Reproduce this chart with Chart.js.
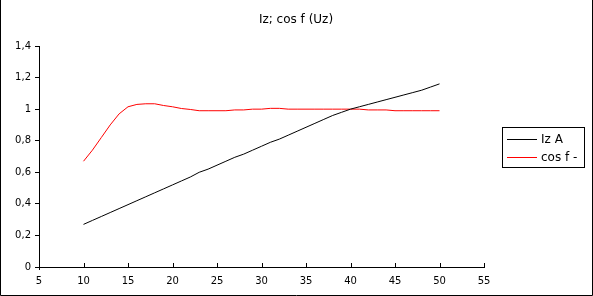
<!DOCTYPE html>
<html>
<head>
<meta charset="utf-8">
<script src="https://cdn.jsdelivr.net/npm/chart.js@4.4.1/dist/chart.umd.min.js"></script>
<style>
  html, body { margin: 0; padding: 0; background: #fff; }
  #wrap { width: 593px; height: 296px; }
</style>
</head>
<body>
<div id="wrap"><canvas id="chart" width="593" height="296"></canvas></div>
<script>
// Uz values (x axis)
const uz = [10, 11, 12, 13, 14, 15, 16, 17, 18, 19, 20, 21, 22, 23, 24, 25, 26, 27, 28, 29, 30,
            31, 32, 33, 34, 35, 36, 37, 38, 39, 40, 41, 42, 43, 44, 45, 46, 47, 48, 49, 50];
// Iz A
const iz = [0.27, 0.295, 0.32, 0.345, 0.37, 0.395, 0.42, 0.445, 0.47, 0.495, 0.52, 0.545, 0.57, 0.60, 0.62,
            0.645, 0.67, 0.695, 0.715, 0.74, 0.765, 0.79, 0.81, 0.835, 0.86, 0.885, 0.91, 0.935, 0.96, 0.98,
            1.00, 1.015, 1.03, 1.045, 1.06, 1.075, 1.09, 1.105, 1.12, 1.14, 1.16];
// cos f -
const cosf = [0.67, 0.74, 0.82, 0.90, 0.97, 1.015, 1.03, 1.034, 1.034, 1.023, 1.015, 1.004, 0.998,
              0.99, 0.99, 0.99, 0.99, 0.995, 0.995, 1.0, 1.0, 1.005, 1.005, 1.0, 1.0, 1.0, 1.0, 1.0,
              1.0, 1.0, 1.0, 1.0, 0.995, 0.995, 0.995, 0.99, 0.99, 0.99, 0.99, 0.99, 0.99];
const seriesNames = ['Iz A', 'cos f -'];
const chartTitle = 'Iz; cos f (Uz)';

const FONT = 'DejaVu Sans';

function toPoints(ys) {
  return uz.map((x, i) => ({ x: x, y: ys[i] }));
}

// frame, title, inward x ticks and boxed legend
const extras = {
  id: 'extras',
  afterDraw(chart) {
    const ctx = chart.ctx;
    const xs = chart.scales.x;
    const area = chart.chartArea;
    ctx.save();

    // outer frame (left, right, bottom)
    ctx.strokeStyle = '#000';
    ctx.lineWidth = 1;
    ctx.beginPath();
    ctx.moveTo(0.5, 0);
    ctx.lineTo(0.5, 295.5);
    ctx.lineTo(592.5, 295.5);
    ctx.lineTo(592.5, 0);
    ctx.stroke();

    // title
    ctx.fillStyle = '#000';
    ctx.font = '12px "' + FONT + '"';
    ctx.textAlign = 'center';
    ctx.textBaseline = 'middle';
    ctx.fillText(chartTitle, 296, 20);

    // x ticks pointing up
    ctx.beginPath();
    xs.ticks.forEach((t, i) => {
      const px = Math.round(xs.getPixelForTick(i)) + 0.5;
      ctx.moveTo(px, area.bottom);
      ctx.lineTo(px, area.bottom - 4);
    });
    ctx.moveTo(area.left + 0.5, area.bottom);
    ctx.lineTo(area.left + 0.5, area.bottom + 3);
    ctx.stroke();

    // legend
    ctx.strokeRect(502.5, 127.5, 82, 40);
    ctx.textAlign = 'left';
    chart.data.datasets.forEach((ds, i) => {
      const y = 139.5 + i * 18;
      ctx.strokeStyle = ds.borderColor;
      ctx.beginPath();
      ctx.moveTo(507, y);
      ctx.lineTo(537, y);
      ctx.stroke();
      ctx.fillStyle = '#000';
      ctx.fillText(ds.label, 541, y);
    });
    ctx.restore();
  }
};

new Chart(document.getElementById('chart'), {
  type: 'line',
  data: {
    datasets: [
      { label: seriesNames[0], data: toPoints(iz), borderColor: '#000000', borderWidth: 1,
        pointRadius: 0, tension: 0, fill: false },
      { label: seriesNames[1], data: toPoints(cosf), borderColor: '#ff0000', borderWidth: 1,
        pointRadius: 0, tension: 0, fill: false }
    ]
  },
  options: {
    responsive: false,
    animation: false,
    events: [],
    layout: { padding: { left: 0, top: 46, right: 109, bottom: 0 } },
    plugins: {
      legend: { display: false },
      title: { display: false },
      tooltip: { enabled: false }
    },
    scales: {
      x: {
        type: 'linear',
        min: 5, max: 55,
        border: { color: '#000', width: 1 },
        grid: { display: true, drawOnChartArea: false, drawTicks: false },
        ticks: { stepSize: 5, color: '#000', padding: 8, maxRotation: 0,
                 font: { family: FONT, size: 10 } },
        afterFit(scale) { scale.height = 29; }
      },
      y: {
        min: 0, max: 1.4,
        border: { color: '#000', width: 1 },
        grid: { display: true, drawOnChartArea: false, drawTicks: true, tickLength: 4, color: '#000' },
        ticks: { stepSize: 0.2, color: '#000', padding: 4,
                 font: { family: FONT, size: 10 },
                 callback: v => String(Math.round(v * 10) / 10).replace('.', ',') },
        afterFit(scale) { scale.width = 39; }
      }
    }
  },
  plugins: [extras]
});
</script>
</body>
</html>
